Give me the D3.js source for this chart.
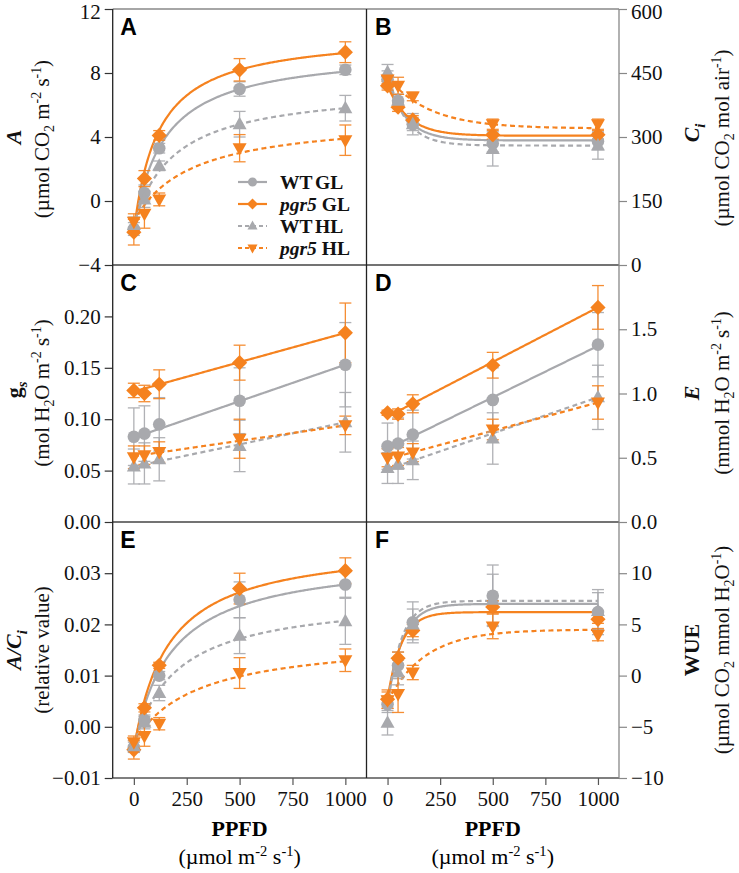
<!DOCTYPE html>
<html><head><meta charset="utf-8">
<script src="https://cdn.jsdelivr.net/npm/d3@7"></script>
<style>body{margin:0;background:#fff}</style>
</head><body>
<svg id="c" width="739" height="873"></svg>
<script>
// ---------- data ----------
const ppfd = [0, 50, 120, 500, 1000];
const seriesNames = ["WT GL", "pgr5 GL", "WT HL", "pgr5 HL"];
const xTicks = [0, 250, 500, 750, 1000];

// A: net photosynthesis
const aMean = [[-1.75, 0.5, 3.3, 7.0, 8.2], [-1.95, 1.4, 4.1, 8.2, 9.3], [-1.5, 0.1, 2.2, 4.8, 5.8], [-1.3, -0.8, 0.1, 3.3, 3.8]];
const aErr  = [[0.4, 0.5, 0.3, 0.45, 0.3], [0.8, 0.5, 0.3, 0.7, 0.65], [0.5, 0.5, 0.3, 0.8, 0.8], [0.5, 0.9, 0.4, 0.85, 0.95]];
const aFit  = [[-1.8, 11.3, 143], [-1.9, 12.44, 116], [-1.5, 8.68, 189], [-1.3, 6.57, 264]]; // y0, a, K (hyperbola)
const aTicks = [-4, 0, 4, 8, 12];

// B: Ci
const bMean = [[435, 385, 330, 285, 290], [420, 370, 340, 305, 305], [452, 385, 330, 272, 280], [435, 420, 395, 330, 330]];
const bErr  = [[20, 15, 15, 20, 20], [10, 10, 10, 10, 10], [18, 15, 25, 40, 32], [10, 20, 10, 12, 12]];
const bFit  = [[435, 292, 90], [420, 303, 100], [452, 280, 85], [440, 320, 200]]; // y0, plateau, k (exponential)
const bTicks = [0, 150, 300, 450, 600];

// C: gs
const cMean = [[0.083, 0.086, 0.095, 0.118, 0.153], [0.128, 0.125, 0.134, 0.155, 0.184], [0.054, 0.057, 0.061, 0.074, 0.097], [0.063, 0.065, 0.068, 0.081, 0.094]];
const cErr  = [[0.028, 0.027, 0.026, 0.032, 0.041], [0.007, 0.008, 0.014, 0.017, 0.029], [0.017, 0.02, 0.021, 0.025, 0.029], [0.011, 0.009, 0.01, 0.019, 0.009]];
const cFit  = [[0.082, 0.153], [0.127, 0.184], [0.054, 0.097], [0.064, 0.094]]; // value at 0, value at 1000 (linear)
const cTicks = [0, 0.05, 0.10, 0.15, 0.20];

// D: E
const dMean = [[0.59, 0.61, 0.68, 0.95, 1.38], [0.85, 0.84, 0.92, 1.22, 1.67], [0.42, 0.45, 0.48, 0.65, 0.97], [0.50, 0.51, 0.54, 0.72, 0.93]];
const dErr  = [[0.18, 0.2, 0.19, 0.25, 0.25], [0.02, 0.04, 0.07, 0.1, 0.17], [0.12, 0.15, 0.15, 0.2, 0.25], [0.07, 0.07, 0.07, 0.08, 0.13]];
const dFit  = [[0.57, 1.37], [0.82, 1.67], [0.41, 0.97], [0.49, 0.93]];
const dTicks = [0, 0.5, 1.0, 1.5];

// E: A/Ci
const eMean = [[-0.004, 0.0013, 0.010, 0.0248, 0.0278], [-0.0045, 0.0037, 0.012, 0.027, 0.0305], [-0.0038, 0.0008, 0.0066, 0.0178, 0.0206], [-0.003, -0.0018, 0.0006, 0.0105, 0.013]];
const eErr  = [[0.001, 0.001, 0.0008, 0.0035, 0.0025], [0.0018, 0.0008, 0.0006, 0.003, 0.0025], [0.0012, 0.0012, 0.0015, 0.0035, 0.0045], [0.0012, 0.002, 0.0012, 0.003, 0.0022]];
const eFit  = [[-0.004, 0.0375, 180], [-0.0045, 0.0406, 160], [-0.0038, 0.0294, 200], [-0.003, 0.02054, 300]];
const eTicks = [-0.01, 0, 0.01, 0.02, 0.03];

// F: WUE
const fMean = [[-2.8, 1.0, 5.2, 7.8, 6.2], [-2.3, 1.7, 4.4, 6.7, 5.5], [-4.6, 0.3, 5.0, 7.4, 6.3], [-2.4, -1.8, 0.3, 4.8, 4.0]];
const fErr  = [[0.8, 1.3, 2.0, 3.0, 2.2], [0.9, 0.6, 0.6, 0.6, 0.4], [1.2, 1.2, 1.5, 2.5, 1.8], [0.8, 1.8, 0.7, 1.2, 0.6]];
const fFit  = [[-2.8, 7.0, 70], [-2.3, 6.2, 65], [-3.0, 7.3, 65], [-2.5, 4.5, 180]];
const fTicks = [-10, -5, 0, 5, 10];

// ---------- style ----------
const GRAY = "#a8a9ad", ORANGE = "#f5821f";
const colors = [GRAY, ORANGE, GRAY, ORANGE];
const dashed = [false, false, true, true];
const shapes = ["circle", "diamond", "tri", "itri"];
const SERIF = "'Liberation Serif','Times New Roman',serif";
const SANS = "'Liberation Sans',Arial,sans-serif";

const svg = d3.select("#c");
const L = 112.7, M = 366.5, R = 619;
const rows = [[9, 265], [265, 522], [522, 778]];
const xL = d3.scaleLinear([-100, 1100], [L, M]);
const xR = d3.scaleLinear([-100, 1100], [M, R]);

const models = {
  hyp: (p, x) => p[0] + p[1] * x / (p[2] + x),
  exp: (p, x) => p[1] + (p[0] - p[1]) * Math.exp(-x / p[2]),
  lin: (p, x) => p[0] + (p[1] - p[0]) * x / 1000
};

function shapePath(s, k) {
  k = k || 1;
  if (s === "circle") return d3.symbol(d3.symbolCircle, Math.PI * 6.3 * 6.3 * k * k)();
  if (s === "diamond") { const h = 7.6 * k; return `M0,${-h}L${h},0L0,${h}L${-h},0Z`; }
  if (s === "tri") { const w = 7 * k; return `M0,${-7.5 * k}L${w},${5 * k}L${-w},${5 * k}Z`; }
  const w = 7 * k; return `M0,${7.5 * k}L${w},${-5 * k}L${-w},${-5 * k}Z`;
}

const panels = [
  {id: "A", col: 0, row: 0, dom: [-4, 12], ticks: aTicks, fmt: d3.format("d"), mean: aMean, err: aErr, fit: aFit, model: "hyp"},
  {id: "B", col: 1, row: 0, dom: [0, 600], ticks: bTicks, fmt: d3.format("d"), mean: bMean, err: bErr, fit: bFit, model: "exp"},
  {id: "C", col: 0, row: 1, dom: [0, 0.25], ticks: cTicks, fmt: d3.format(".2f"), mean: cMean, err: cErr, fit: cFit, model: "lin"},
  {id: "D", col: 1, row: 1, dom: [0, 2], ticks: dTicks, fmt: d3.format(".1f"), mean: dMean, err: dErr, fit: dFit, model: "lin"},
  {id: "E", col: 0, row: 2, dom: [-0.01, 0.04], ticks: eTicks, fmt: d3.format(".2f"), mean: eMean, err: eErr, fit: eFit, model: "hyp"},
  {id: "F", col: 1, row: 2, dom: [-10, 15], ticks: fTicks, fmt: d3.format("d"), mean: fMean, err: fErr, fit: fFit, model: "exp"}
];

function rich(sel, parts, size) {
  let prev = 0;
  parts.forEach(p => {
    const small = p.sub || p.sup;
    const shift = p.sub ? size * 0.25 : p.sup ? -size * 0.38 : 0;
    const t = sel.append("tspan").attr("dy", shift - prev).attr("font-size", small ? size * 0.66 : size).text(p.t);
    if (p.b) t.attr("font-weight", "bold");
    if (p.i) t.attr("font-style", "italic");
    prev = shift;
  });
}

// ---------- panels ----------
panels.forEach(P => {
  const x = P.col === 0 ? xL : xR;
  const [top, bot] = rows[P.row];
  const y = d3.scaleLinear(P.dom, [bot, top]);
  const g = svg.append("g");

  // fitted lines
  const xs = d3.range(0, 1001, 5);
  P.fit.forEach((p, i) => {
    g.append("path")
      .datum(xs.map(v => [v, models[P.model](p, v)]))
      .attr("d", d3.line().x(d => x(d[0])).y(d => y(d[1])))
      .attr("fill", "none").attr("stroke", colors[i]).attr("stroke-width", 2.2)
      .attr("stroke-dasharray", dashed[i] ? "5,3.5" : null);
  });
  // error bars + markers
  P.mean.forEach((vals, i) => {
    const eg = g.append("g").attr("stroke", colors[i]).attr("stroke-width", 1.3).attr("opacity", 0.9);
    vals.forEach((v, j) => {
      const e = P.err[i][j], cx = x(ppfd[j]);
      eg.append("line").attr("x1", cx).attr("x2", cx).attr("y1", y(v - e)).attr("y2", y(v + e));
      [v - e, v + e].forEach(b => eg.append("line").attr("x1", cx - 6).attr("x2", cx + 6).attr("y1", y(b)).attr("y2", y(b)));
    });
  });
  P.mean.forEach((vals, i) => {
    vals.forEach((v, j) => {
      g.append("path").attr("d", shapePath(shapes[i]))
        .attr("transform", `translate(${x(ppfd[j])},${y(v)})`).attr("fill", colors[i]);
    });
  });

  // y axis
  const ax = (P.col === 0 ? d3.axisLeft(y) : d3.axisRight(y)).tickValues(P.ticks).tickFormat(P.fmt).tickSize(8).tickPadding(4);
  const ag = svg.append("g").attr("transform", `translate(${P.col === 0 ? L : R},0)`).call(ax);
  ag.select(".domain").remove();
  ag.selectAll(".tick line").attr("stroke", P.col === 0 ? "#333" : "#888").attr("stroke-width", 1.2);
  ag.selectAll("text").attr("font-family", SERIF).attr("font-size", 21).attr("fill", "#111");
  // keep the topmost label inside the picture
  ag.selectAll(".tick").filter(d => y(d) < 12).select("text").attr("dy", "0.46em");

  // panel letter
  svg.append("text").attr("x", P.col === 0 ? L + 7.5 : M + 8.5).attr("y", top + 26)
    .attr("font-family", SANS).attr("font-weight", "bold").attr("font-size", 23).attr("fill", "#000").text(P.id);
});

// x axes
[xL, xR].forEach((x, c) => {
  const ag = svg.append("g").attr("transform", `translate(0,${rows[2][1]})`)
    .call(d3.axisBottom(x).tickValues(xTicks).tickFormat(d3.format("d")).tickSize(7).tickPadding(6));
  ag.select(".domain").remove();
  ag.selectAll(".tick line").attr("stroke", "#555").attr("stroke-width", 1.2);
  ag.selectAll("text").attr("font-family", SERIF).attr("font-size", 21).attr("fill", "#111");
  const cx = c === 0 ? (L + M) / 2 : (M + R) / 2;
  svg.append("text").attr("x", cx).attr("y", 836).attr("text-anchor", "middle")
    .attr("font-family", SERIF).attr("font-weight", "bold").attr("font-size", 22).text("PPFD");
  const t = svg.append("text").attr("x", cx).attr("y", 864).attr("text-anchor", "middle").attr("font-family", SERIF);
  rich(t, [{t: "(µmol m"}, {t: "-2", sup: 1}, {t: " s"}, {t: "-1", sup: 1}, {t: ")"}], 22);
});

// frame lines
const frame = svg.append("g").attr("fill", "none");
frame.append("line").attr("x1", L).attr("x2", R).attr("y1", 9).attr("y2", 9).attr("stroke", "#888").attr("stroke-width", 1.3);
frame.append("line").attr("x1", L).attr("x2", R).attr("y1", 265).attr("y2", 265).attr("stroke", "#444").attr("stroke-width", 1.3);
frame.append("line").attr("x1", L).attr("x2", R).attr("y1", 522).attr("y2", 522).attr("stroke", "#444").attr("stroke-width", 1.3);
frame.append("line").attr("x1", L).attr("x2", R).attr("y1", 778).attr("y2", 778).attr("stroke", "#555").attr("stroke-width", 1.3);
frame.append("line").attr("x1", L).attr("x2", L).attr("y1", 9).attr("y2", 778).attr("stroke", "#222").attr("stroke-width", 1.3);
frame.append("line").attr("x1", M).attr("x2", M).attr("y1", 9).attr("y2", 778).attr("stroke", "#222").attr("stroke-width", 1.3);
frame.append("line").attr("x1", R).attr("x2", R).attr("y1", 9).attr("y2", 778).attr("stroke", "#888").attr("stroke-width", 1.3);

// y titles
function yTitle(xb, cy, parts, size) {
  const t = svg.append("text").attr("transform", `translate(${xb},${cy}) rotate(-90)`)
    .attr("text-anchor", "middle").attr("font-family", SERIF).attr("fill", "#111");
  rich(t, parts, size);
}
const sz1 = 22, sz2 = 21;
yTitle(21, 137, [{t: "A", b: 1, i: 1}], sz1);
yTitle(49, 139, [{t: "(µmol CO"}, {t: "2", sub: 1}, {t: " m"}, {t: "-2", sup: 1}, {t: " s"}, {t: "-1", sup: 1}, {t: ")"}], sz2);
yTitle(21, 390, [{t: "g", b: 1}, {t: "s", sub: 1, b: 1, i: 1}], sz1);
yTitle(49, 393, [{t: "(mol H"}, {t: "2", sub: 1}, {t: "O m"}, {t: "-2", sup: 1}, {t: " s"}, {t: "-1", sup: 1}, {t: ")"}], sz2);
yTitle(21, 650, [{t: "A/C", b: 1, i: 1}, {t: "i", sub: 1, b: 1, i: 1}], sz1);
yTitle(49, 650, [{t: "(relative value)"}], sz2);
yTitle(699, 133, [{t: "C", b: 1, i: 1}, {t: "i", sub: 1, b: 1, i: 1}], sz1);
yTitle(729, 138, [{t: "(µmol CO"}, {t: "2", sub: 1}, {t: " mol air"}, {t: "-1", sup: 1}, {t: ")"}], sz2);
yTitle(699, 393, [{t: "E", b: 1, i: 1}], sz1);
yTitle(729, 393, [{t: "(mmol H"}, {t: "2", sub: 1}, {t: "O m"}, {t: "-2", sup: 1}, {t: " s"}, {t: "-1", sup: 1}, {t: ")"}], sz2);
yTitle(699, 650, [{t: "WUE", b: 1}], sz1);
yTitle(729, 650, [{t: "(µmol CO"}, {t: "2", sub: 1}, {t: " mmol H"}, {t: "2", sub: 1}, {t: "O"}, {t: "-1", sup: 1}, {t: ")"}], sz2);

// legend (panel A)
const legY = [182, 204, 226, 248];
const leg = svg.append("g");
seriesNames.forEach((n, i) => {
  const yy = legY[i];
  leg.append("line").attr("x1", 238).attr("x2", 267).attr("y1", yy).attr("y2", yy)
    .attr("stroke", colors[i]).attr("stroke-width", 2.2).attr("stroke-dasharray", dashed[i] ? "4,3" : null);
  leg.append("path").attr("d", shapePath(shapes[i], 0.72)).attr("transform", `translate(252.5,${yy})`).attr("fill", colors[i]);
  const t = leg.append("text").attr("x", 280).attr("y", yy + 7).attr("font-family", SERIF)
    .attr("font-weight", "bold").attr("font-size", 19.5).attr("fill", "#111");
  const parts = n.split(" ");
  if (parts[0] === "pgr5") {
    t.append("tspan").attr("font-style", "italic").text("pgr5");
    t.append("tspan").text(" " + parts[1]);
  } else {
    t.append("tspan").text(parts[0]);
    t.append("tspan").attr("dx", -2).text(" " + parts[1]);
  }
});
</script>
</body></html>
